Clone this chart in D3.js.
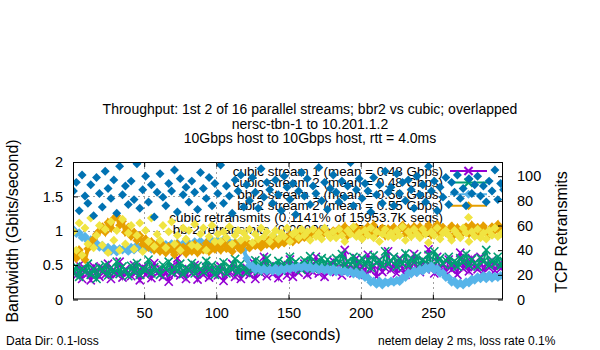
<!DOCTYPE html>
<html lang="en">
<head>
<meta charset="UTF-8">
<title>Throughput chart</title>
<script src="https://d3js.org/d3.v7.min.js"></script>
<style>
    body { margin: 0; background: #fff; }
    text { font-family: "Liberation Sans", Arial, sans-serif; fill: #000; }
</style>
</head>
<body>
<script>

// sample times (seconds), one sample every 2 s
const t0 = 1, dt = 2;

// throughput per stream (Gbits/second)
const cubic1 = [
    0.42,0.35,0.5,0.3,0.45,0.38,0.28,0.48,0.4,0.33,
    0.46,0.36,0.52,0.3,0.43,0.37,0.55,0.32,0.44,0.39,
    0.34,0.5,0.4,0.28,0.47,0.36,0.42,0.31,0.53,0.38,
    0.45,0.33,0.4,0.26,0.48,0.37,0.6,0.35,0.42,0.3,
    0.44,0.38,0.5,0.29,0.41,0.36,0.47,0.32,0.43,0.39,
    0.35,0.48,0.27,0.42,0.38,0.52,0.33,0.45,0.3,0.4,
    0.46,0.36,0.55,0.3,0.42,0.38,0.62,0.34,0.48,0.37,
    0.44,0.31,0.5,0.4,0.35,0.58,0.33,0.47,0.39,0.45,
    0.52,0.36,0.48,0.4,0.62,0.38,0.45,0.33,0.5,0.42,
    0.56,0.4,0.47,0.35,0.72,0.42,0.5,0.38,0.6,0.44,
    0.48,0.36,0.65,0.42,0.5,0.33,0.58,0.4,0.46,0.7,
    0.43,0.52,0.38,0.6,0.45,0.36,0.55,0.42,0.66,0.47,
    0.4,0.57,0.44,0.73,0.48,0.38,0.62,0.45,0.52,0.4,
    0.58,0.43,0.5,0.36,0.68,0.45,0.55,0.41,0.6,0.47,
    0.44,0.62,0.4,0.52,0.46,0.57,0.42,0.5,0.45,0.55
];
const cubic2 = [
    0.38,0.48,0.33,0.45,0.4,0.52,0.36,0.44,0.3,0.47,
    0.41,0.5,0.35,0.46,0.39,0.55,0.37,0.48,0.42,0.34,
    0.49,0.4,0.53,0.36,0.45,0.42,0.58,0.38,0.47,0.43,
    0.36,0.5,0.44,0.55,0.39,0.47,0.41,0.52,0.37,0.46,
    0.42,0.53,0.38,0.49,0.44,0.4,0.56,0.43,0.5,0.36,
    0.47,0.41,0.54,0.38,0.48,0.44,0.59,0.4,0.52,0.45,
    0.39,0.5,0.43,0.57,0.41,0.53,0.46,0.6,0.44,0.5,
    0.48,0.56,0.42,0.52,0.47,0.62,0.45,0.55,0.5,0.43,
    0.57,0.48,0.63,0.45,0.54,0.5,0.6,0.46,0.58,0.52,
    0.47,0.6,0.53,0.66,0.49,0.56,0.51,0.62,0.48,0.55,
    0.6,0.5,0.58,0.46,0.64,0.53,0.57,0.49,0.7,0.52,
    0.56,0.62,0.48,0.58,0.52,0.67,0.5,0.6,0.54,0.63,
    0.5,0.58,0.53,0.65,0.49,0.7,0.55,0.6,0.52,0.57,
    0.62,0.5,0.56,0.48,0.6,0.54,0.66,0.5,0.58,0.53,
    0.48,0.6,0.55,0.72,0.5,0.57,0.52,0.62,0.49,0.56
];
const bbr1 = [
    1.02,0.96,0.97,0.9,0.92,0.85,0.87,0.8,0.82,0.76,
    0.79,0.73,0.76,0.7,0.75,0.69,0.74,0.72,0.76,0.7,
    0.76,0.72,0.79,0.74,0.8,0.75,0.77,0.73,0.8,0.75,
    0.78,0.74,0.8,0.77,0.81,0.76,0.82,0.76,0.81,0.79,
    0.82,0.78,0.84,0.79,0.85,0.8,0.83,0.82,0.86,0.8,
    0.86,0.81,0.87,0.82,0.84,0.81,0.83,0.78,0.8,0.72,
    0.6,0.5,0.49,0.43,0.46,0.42,0.45,0.41,0.44,0.41,
    0.46,0.4,0.45,0.43,0.46,0.44,0.47,0.45,0.48,0.46,
    0.49,0.45,0.48,0.44,0.47,0.43,0.46,0.42,0.45,0.4,
    0.45,0.4,0.43,0.4,0.42,0.39,0.41,0.37,0.4,0.35,
    0.38,0.32,0.32,0.25,0.27,0.22,0.27,0.21,0.26,0.24,
    0.27,0.25,0.28,0.26,0.32,0.32,0.39,0.37,0.42,0.39,
    0.44,0.41,0.47,0.44,0.49,0.43,0.45,0.38,0.39,0.32,
    0.32,0.25,0.27,0.21,0.24,0.21,0.26,0.24,0.3,0.28,
    0.33,0.3,0.35,0.3,0.36,0.31,0.34,0.32,0.35,0.33
];
const bbr2 = [
    0.7,0.6,0.72,0.64,0.58,0.74,0.8,0.88,0.95,1.0,
    1.06,0.98,1.12,1.04,1.18,1.22,1.08,1.14,0.98,1.05,
    0.92,0.98,0.86,0.93,0.8,0.88,0.76,0.84,0.72,0.8,
    0.7,0.79,0.68,0.77,0.72,0.65,0.8,0.7,0.76,0.67,
    0.78,0.7,0.8,0.68,0.76,0.72,0.82,0.7,0.78,0.73,
    0.8,0.72,0.84,0.74,0.79,0.7,0.82,0.76,0.72,0.8,
    0.84,0.75,0.82,0.78,0.86,0.76,0.83,0.8,0.88,0.78,
    0.86,0.8,0.9,0.82,0.88,0.94,0.84,0.92,0.87,0.96,
    0.9,0.98,0.92,1.0,0.94,0.99,0.93,1.02,0.96,0.92,
    1.0,0.94,1.03,0.96,1.06,0.93,1.01,0.97,1.05,0.95,
    1.02,0.94,1.06,0.97,1.08,0.95,1.0,1.04,0.93,1.03,
    0.96,1.05,0.94,1.02,1.08,0.95,1.04,0.93,1.06,0.98,
    1.06,0.95,1.02,1.08,0.94,1.03,1.09,0.96,1.05,0.97,
    1.01,1.07,0.95,1.04,0.93,1.02,1.06,0.96,1.08,0.99,
    1.05,0.95,1.07,1.0,0.94,1.06,1.01,1.09,0.97,1.04
];

// retransmits (right axis)
const cubicRetr = [
    55,40,62,36,58,45,66,42,52,60,
    44,57,38,63,48,56,40,65,45,54,
    60,41,52,62,39,56,47,66,43,53,
    48,60,42,55,63,45,52,40,58,49,
    56,44,61,43,53,58,40,51,60,47,
    53,47,55,50,59,45,52,56,48,54,
    50,57,46,53,49,58,51,55,47,52,
    56,49,54,51,58,47,53,55,50,57,
    52,55,48,57,51,54,49,58,53,50,
    55,50,57,52,47,56,53,59,51,54,
    49,56,52,58,50,55,47,53,57,51,
    54,50,56,52,59,48,55,51,57,53,
    50,57,53,46,55,52,58,49,54,56,
    52,48,56,53,50,58,54,47,55,51,
    57,50,54,49,56,52,58,51,53,55
];
const bbrRetr = [
    88,95,72,101,84,78,93,68,99,86,
    75,104,90,82,97,70,108,85,92,77,
    96,81,110,74,89,100,79,93,67,87,
    102,83,76,94,88,105,71,98,85,91,
    79,96,87,73,103,90,82,99,76,94,
    86,109,78,92,84,70,97,88,101,75,
    93,80,99,87,74,106,83,95,89,78,
    97,85,72,100,91,81,94,69,88,103,
    84,98,77,92,86,107,80,95,73,90,
    101,87,79,96,83,92,111,76,89,98,
    82,94,88,71,99,85,93,78,104,87,
    91,76,102,86,95,80,97,89,74,100,
    85,93,79,108,88,96,72,91,83,99,
    77,95,87,101,82,90,76,98,86,93,
    100,84,92,79,96,88,105,81,94,89
];

const legendLabels = [
    'cubic stream 1 (mean = 0.48 Gbps)',
    'cubic stream 2 (mean = 0.48 Gbps)',
    'bbr2 stream 1 (mean = 0.56 Gbps)',
    'bbr2 stream 2 (mean = 0.55 Gbps)',
    'cubic retransmits (0.1141% of 15953.7K segs)',
    'bbr2 retransmits (0.0000% of 25425.8K segs)'
];
const titleLines = [
    'Throughput: 1st 2 of 16 parallel streams; bbr2 vs cubic; overlapped',
    'nersc-tbn-1 to 10.201.1.2',
    '10Gbps host to 10Gbps host, rtt = 4.0ms'
];
const xTicks = [50, 100, 150, 200, 250];
const yTicks = [0, 0.5, 1, 1.5, 2];
const y2Ticks = [0, 20, 40, 60, 80, 100];

const colors = ['#9400d3', '#009e73', '#56b4e9', '#e69f00', '#f0e442', '#0072b2'];

const W = 600, H = 350;
const L = 73, R = 503, T = 162, B = 299.5;

const x = d3.scaleLinear().domain([0.7, 298.6]).range([L, R]);
const y = d3.scaleLinear().domain([0, 2]).range([B, T]);
const y2 = d3.scaleLinear().domain([0, 111.5]).range([B, T]);

const svg = d3.select('body').append('svg')
    .attr('width', W).attr('height', H)
    .style('display', 'block');
svg.append('rect').attr('width', W).attr('height', H).attr('fill', '#fff');

svg.append('defs').append('clipPath').attr('id', 'plot')
    .append('rect').attr('x', L).attr('y', T).attr('width', R - L).attr('height', B - T);

// grid
const grid = svg.append('g').attr('stroke', '#a0a0a0').attr('stroke-dasharray', '2,3').attr('stroke-width', 1);
grid.selectAll('.gx').data(xTicks).enter().append('line')
    .attr('x1', d => Math.round(x(d)) + 0.5).attr('x2', d => Math.round(x(d)) + 0.5)
    .attr('y1', T).attr('y2', B);
grid.selectAll('.gy').data(yTicks.filter(d => d > 0 && d < 2)).enter().append('line')
    .attr('x1', L).attr('x2', R)
    .attr('y1', d => Math.round(y(d)) + 0.5).attr('y2', d => Math.round(y(d)) + 0.5);

// symbols
const diamond = d3.symbol().type(d3.symbolSquare).size(40);
const cross = d3.symbol().type(d3.symbolX).size(45);

// legend (drawn under the data, like the original)
const legend = svg.append('g');
const rowY = i => 171 + i * 11.6;
legend.selectAll('text').data(legendLabels).enter().append('text')
    .attr('x', 443).attr('y', (d, i) => rowY(i) + 4.6)
    .attr('text-anchor', 'end').style('font-size', '13.4px')
    .text(d => d);
legend.selectAll('line').data(colors.slice(0, 4)).enter().append('line')
    .attr('x1', 450).attr('x2', 487)
    .attr('y1', (d, i) => rowY(i)).attr('y2', (d, i) => rowY(i))
    .attr('stroke', d => d).attr('stroke-width', 2);
legend.selectAll('path.lm').data(colors).enter().append('path')
    .attr('transform', (d, i) => `translate(468.5,${rowY(i)})` + (i < 2 ? '' : ' rotate(45)'))
    .attr('d', (d, i) => i < 2 ? cross() : diamond())
    .attr('fill', (d, i) => i < 2 ? 'none' : d)
    .attr('stroke', (d, i) => i < 2 ? d : 'none')
    .attr('stroke-width', 2);

// data
const plot = svg.append('g').attr('clip-path', 'url(#plot)');
const toPts = arr => arr.map((v, i) => ({ t: t0 + i * dt, v }));

const streams = [cubic1, cubic2, bbr1, bbr2];
streams.forEach((arr, k) => {
    const pts = toPts(arr);
    const line = d3.line().x(d => x(d.t)).y(d => y(d.v));
    plot.append('path').datum(pts)
        .attr('d', line)
        .attr('fill', 'none')
        .attr('stroke', colors[k])
        .attr('stroke-width', k < 2 ? 2 : 4);
    const g = plot.append('g');
    if (k < 2) {
        g.selectAll('path').data(pts).enter().append('path')
            .attr('transform', d => `translate(${x(d.t)},${y(d.v)})`)
            .attr('d', cross())
            .attr('fill', 'none')
            .attr('stroke', colors[k])
            .attr('stroke-width', 1.6);
    } else {
        g.selectAll('path').data(pts).enter().append('path')
            .attr('transform', d => `translate(${x(d.t)},${y(d.v)}) rotate(45)`)
            .attr('d', diamond())
            .attr('fill', colors[k]);
    }
});

[cubicRetr, bbrRetr].forEach((arr, k) => {
    plot.append('g').selectAll('path').data(toPts(arr)).enter().append('path')
        .attr('transform', d => `translate(${x(d.t)},${y2(d.v)}) rotate(45)`)
        .attr('d', diamond())
        .attr('fill', colors[4 + k]);
});

// border and axes
svg.append('rect')
    .attr('x', L + 0.5).attr('y', T + 0.5)
    .attr('width', R - L - 1).attr('height', B - T - 1)
    .attr('fill', 'none').attr('stroke', '#000').attr('stroke-width', 1);

const axisFont = g => {
    g.select('.domain').remove();
    g.selectAll('text').style('font-size', '14.5px').attr('fill', '#000');
    g.selectAll('line').attr('stroke', '#000');
};

svg.append('g').attr('transform', `translate(0,${B})`)
    .call(d3.axisBottom(x).tickValues(xTicks).tickSize(-5).tickPadding(8))
    .call(axisFont);
svg.append('g').attr('transform', `translate(0,${T})`)
    .call(d3.axisTop(x).tickValues(xTicks).tickSize(-5).tickFormat(''))
    .call(axisFont);
svg.append('g').attr('transform', `translate(${L},0)`)
    .call(d3.axisLeft(y).tickValues(yTicks).tickSize(-5).tickPadding(10).tickFormat(d => String(d)))
    .call(axisFont);
svg.append('g').attr('transform', `translate(${R},0)`)
    .call(d3.axisRight(y2).tickValues(y2Ticks).tickSize(-5).tickPadding(14))
    .call(axisFont);

// titles and labels
svg.append('g').selectAll('text').data(titleLines).enter().append('text')
    .attr('x', 310).attr('y', (d, i) => 114 + i * 14.5)
    .attr('text-anchor', 'middle').style('font-size', '14px')
    .text(d => d);

svg.append('text')
    .attr('transform', 'translate(18,231) rotate(-90)')
    .attr('text-anchor', 'middle').style('font-size', '16px')
    .text('Bandwidth (Gbits/second)');
svg.append('text')
    .attr('transform', 'translate(567,232) rotate(-90)')
    .attr('text-anchor', 'middle').style('font-size', '16px')
    .text('TCP Retransmits');
svg.append('text')
    .attr('x', 288).attr('y', 340)
    .attr('text-anchor', 'middle').style('font-size', '16px')
    .text('time (seconds)');

svg.append('text').attr('x', 6).attr('y', 345).style('font-size', '12px').text('Data Dir: 0.1-loss');
svg.append('text').attr('x', 378).attr('y', 345).style('font-size', '12px').text('netem delay 2 ms, loss rate 0.1%');

</script>
</body>
</html>
